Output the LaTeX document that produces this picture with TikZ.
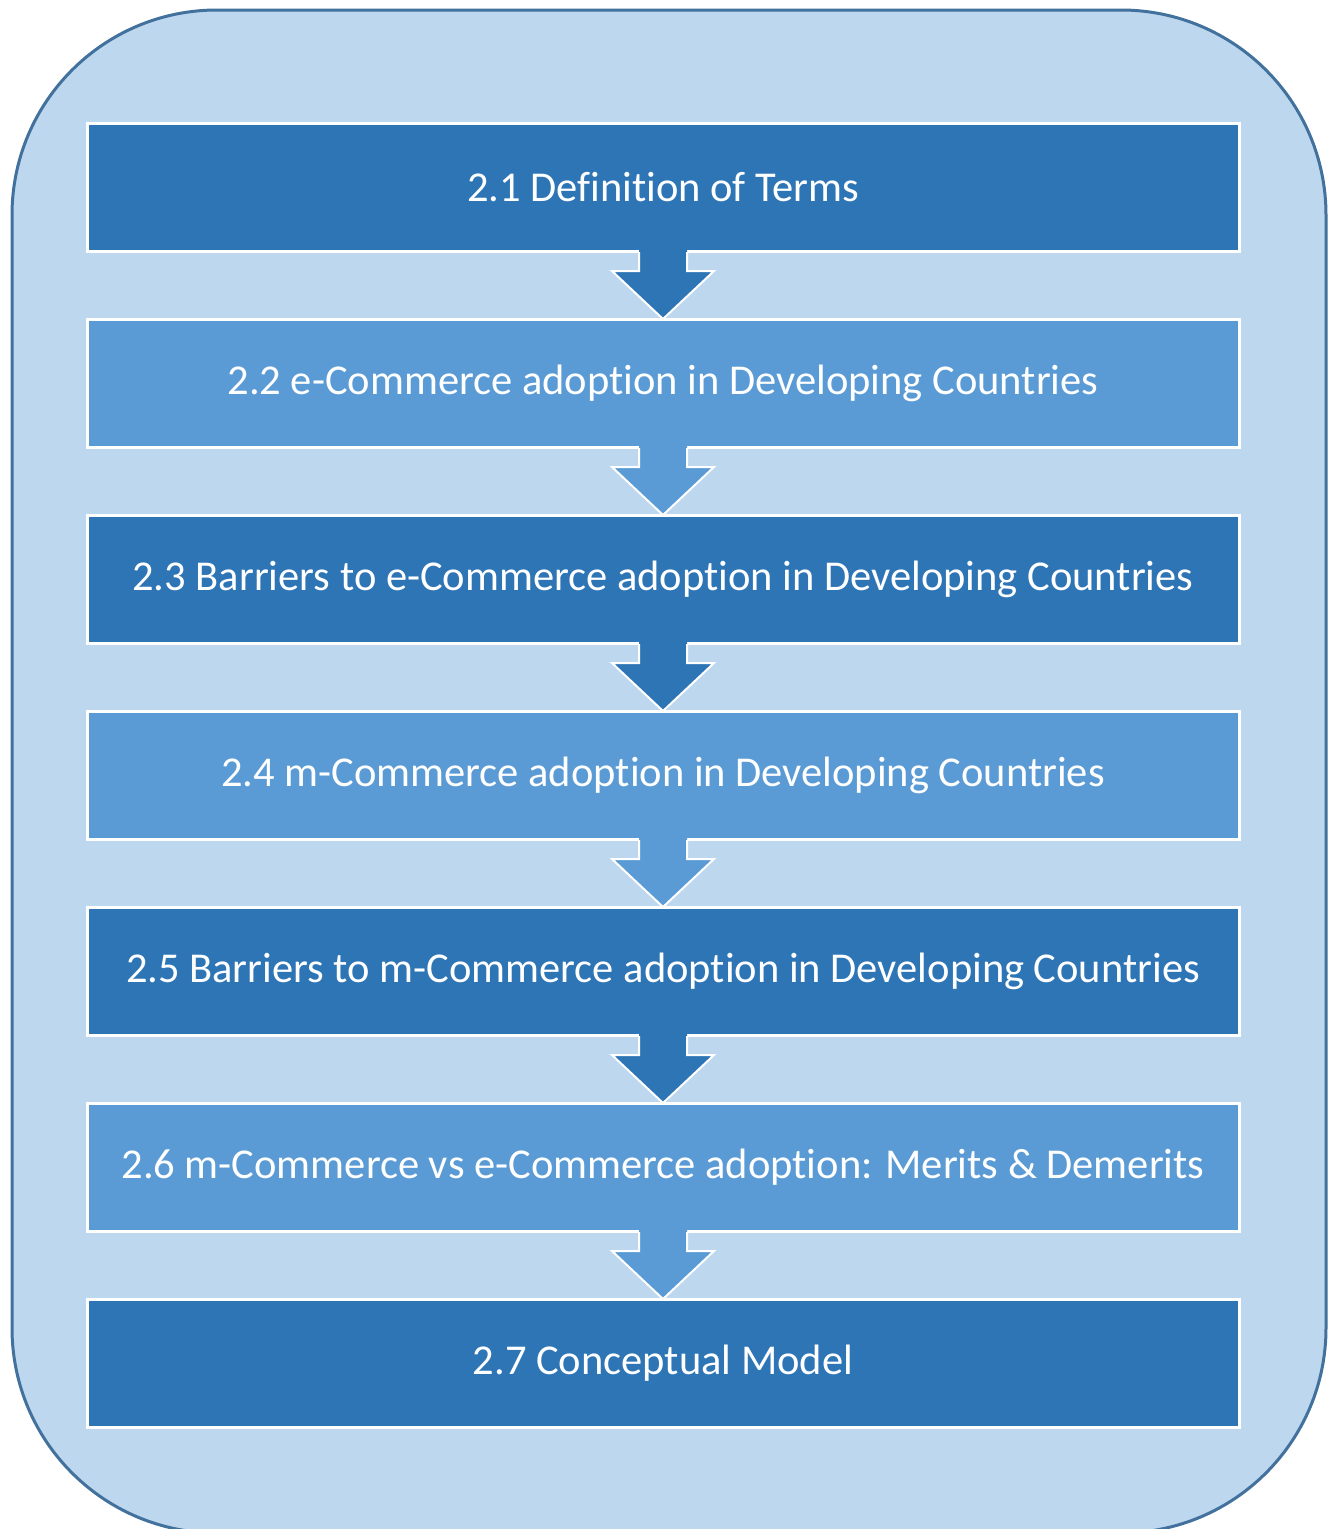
\documentclass[tikz,border=0pt]{standalone}
\usepackage{fontspec}
\setmainfont[Ligatures={NoCommon}]{Carlito}
\usetikzlibrary{calc}
\definecolor{panelfill}{HTML}{BDD7EE}
\definecolor{paneledge}{HTML}{41719C}
\definecolor{darkstep}{HTML}{2E75B6}
\definecolor{lightstep}{HTML}{5B9BD5}
\newcommand{\steplabel}[1]{\raisebox{-1.5pt}{#1}}
\tikzset{
  stagebox/.style={rectangle, draw=white, line width=3pt, minimum width=1152pt,
    minimum height=128pt, inner sep=0pt, outer sep=0pt, text=white,
    font=\fontsize{42.5pt}{50pt}\selectfont},
  darkbox/.style={stagebox, fill=darkstep},
  lightbox/.style={stagebox, fill=lightstep},
}
\begin{document}
\begin{tikzpicture}[x=1pt,y=-1pt]
  \useasboundingbox (0,0) rectangle (1336,1529);
  % outer rounded panel, its lower edge running just past the page
  \draw[fill=panelfill, draw=paneledge, line width=3pt, rounded corners=205pt]
    (12,10) rectangle (1326,1533);
  % stages
  \node[darkbox]  (b1) at (663,187)  {\steplabel{2.1 Definition of Terms}};
  \node[lightbox] (b2) at (663,383)  {\steplabel{2.2 e-Commerce adoption in Developing Countries}};
  \node[darkbox]  (b3) at (663,579)  {\steplabel{2.3 Barriers to e-Commerce adoption in Developing Countries}};
  \node[lightbox] (b4) at (663,775)  {\steplabel{2.4 m-Commerce adoption in Developing Countries}};
  \node[darkbox]  (b5) at (663,971)  {\steplabel{2.5 Barriers to m-Commerce adoption in Developing Countries}};
  \node[lightbox] (b6) at (663,1167) {\steplabel{2.6 m-Commerce vs e-Commerce adoption: Merits \& Demerits}};
  \node[darkbox]  (b7) at (663,1363) {\steplabel{2.7 Conceptual Model}};
  % block arrows between stages
  \foreach \i/\j/\c in {1/2/darkstep,2/3/lightstep,3/4/darkstep,4/5/lightstep,5/6/darkstep,6/7/lightstep}{
    \fill[\c] ($(b\i.south)+(-24,-2)$) -- ($(b\i.south)+(-24,20)$) -- ($(b\i.south)+(-51,20)$)
      -- (b\j.north) -- ($(b\i.south)+(51,20)$) -- ($(b\i.south)+(24,20)$)
      -- ($(b\i.south)+(24,-2)$) -- cycle;
    \draw[white, line width=2pt, line join=miter] ($(b\i.south)+(-24,1)$) -- ($(b\i.south)+(-24,20)$) -- ($(b\i.south)+(-51,20)$)
      -- (b\j.north) -- ($(b\i.south)+(51,20)$) -- ($(b\i.south)+(24,20)$)
      -- ($(b\i.south)+(24,1)$);
  }
\end{tikzpicture}
\end{document}
